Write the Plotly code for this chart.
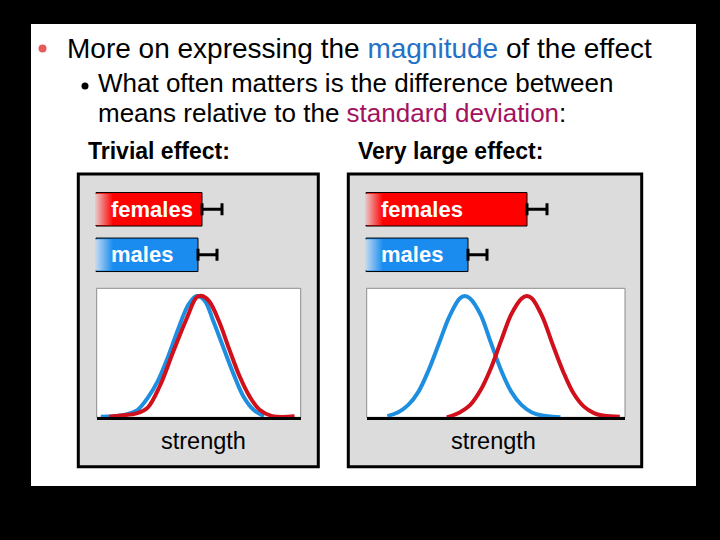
import plotly.graph_objects as go

# slide data
bar_groups = ["females", "males"]
bar_pos = [1, 0]
trivial_means = [106, 102]
large_means = [161, 102]
group_sd = [20, 19]
bar_colors = ["#ff0000", "#1a8cf0"]
fade_colors = ["#e8cccc", "#c9dcf0"]

# curves (x: 0-100 across plot, y: peak = 1)
left_x_blue = [2, 10, 15, 20, 25, 30, 35, 40, 45, 49, 53, 57, 62, 67, 72, 77, 82]
left_y_blue = [0.005, 0.01, 0.025, 0.06, 0.16, 0.30, 0.50, 0.73, 0.93, 1.0, 0.96, 0.80, 0.58, 0.36, 0.17, 0.06, 0.01]
left_x_red = [6, 12, 20, 25, 31, 37.5, 44, 49, 51.5, 55, 60, 65, 70, 75, 80, 86, 97]
left_y_red = [0.005, 0.015, 0.035, 0.08, 0.26, 0.54, 0.81, 0.99, 1.0, 0.96, 0.79, 0.56, 0.34, 0.17, 0.06, 0.01, 0.008]
right_x_blue = [8, 12, 16, 20, 24, 28, 32, 36, 38, 40, 44, 48, 52, 56, 60, 64, 68, 72, 75]
right_y_blue = [0.01, 0.04, 0.1, 0.21, 0.39, 0.61, 0.83, 0.98, 1.0, 0.98, 0.85, 0.62, 0.39, 0.21, 0.1, 0.04, 0.015, 0.005, 0.0]
right_x_red = [31, 36, 40, 44, 48, 52, 56, 60, 62, 64, 68, 72, 76, 80, 84, 88, 92, 98]
right_y_red = [0.0, 0.04, 0.1, 0.22, 0.4, 0.63, 0.85, 0.98, 1.0, 0.98, 0.83, 0.6, 0.38, 0.2, 0.09, 0.035, 0.012, 0.005]

W, H = 720, 540
FONT = "Liberation Sans, Arial, sans-serif"
BAR_W = 0.736
FADE = 17


def px(x):
    return x / W


def py(y):
    return 1 - y / H


fig = go.Figure()

# bars + fade at the left end
for xa, ya, means in [("x", "y", trivial_means), ("x2", "y2", large_means)]:
    fig.add_trace(go.Bar(
        x=means, y=bar_pos, orientation="h", width=BAR_W,
        marker=dict(color=bar_colors, line=dict(color="black", width=1)),
        error_x=dict(type="data", array=group_sd, symmetric=False, arrayminus=[0, 0],
                     color="black", thickness=3, width=6),
        xaxis=xa, yaxis=ya, hoverinfo="skip", showlegend=False))
    for i, g in enumerate(bar_groups):
        h = BAR_W / 2 - 0.025
        c = bar_pos[i]
        fig.add_trace(go.Scatter(
            x=[-1, FADE, FADE, -1, -1], y=[c - h, c - h, c + h, c + h, c - h],
            mode="none", fill="toself",
            fillgradient=dict(type="horizontal",
                              colorscale=[[0, fade_colors[i]], [1, bar_colors[i]]]),
            xaxis=xa, yaxis=ya, hoverinfo="skip", showlegend=False))
        fig.add_annotation(x=13, y=c, xref=xa, yref=ya, text=g, showarrow=False,
                           xanchor="left", yanchor="middle",
                           font=dict(family=FONT, size=22, color="white", weight="bold"))

# distribution curves
for xa, ya, bx, by, rx, ry in [("x3", "y3", left_x_blue, left_y_blue, left_x_red, left_y_red),
                               ("x4", "y4", right_x_blue, right_y_blue, right_x_red, right_y_red)]:
    fig.add_trace(go.Scatter(x=bx, y=by, mode="lines", line=dict(color="#1e8fe0", width=4, shape="spline"),
                             xaxis=xa, yaxis=ya, hoverinfo="skip", showlegend=False))
    fig.add_trace(go.Scatter(x=rx, y=ry, mode="lines", line=dict(color="#d0101a", width=4, shape="spline"),
                             xaxis=xa, yaxis=ya, hoverinfo="skip", showlegend=False))

bar_y_dom = [py(277.55), py(186.55)]
curve_y_dom = [py(417.3), py(288.3)]
hidden = dict(showgrid=False, zeroline=False, showticklabels=False, ticks="", fixedrange=True)
fig.update_layout(
    xaxis=dict(domain=[px(78), px(318)], range=[-18, 222], **hidden),
    yaxis=dict(domain=bar_y_dom, range=[-0.5, 1.5], **hidden),
    xaxis2=dict(domain=[px(348), px(642)], range=[-18, 276], anchor="y2", **hidden),
    yaxis2=dict(domain=bar_y_dom, range=[-0.5, 1.5], anchor="x2", **hidden),
    xaxis3=dict(domain=[px(96.7), px(300.7)], range=[0, 100], anchor="y3",
                showline=True, linecolor="black", linewidth=3, **hidden),
    yaxis3=dict(domain=curve_y_dom, range=[0, 1.0635], anchor="x3", **hidden),
    xaxis4=dict(domain=[px(366.7), px(625)], range=[0, 100], anchor="y4",
                showline=True, linecolor="black", linewidth=3, **hidden),
    yaxis4=dict(domain=curve_y_dom, range=[0, 1.0635], anchor="x4", **hidden),
)

shapes = [
    dict(type="rect", xref="paper", yref="paper", x0=px(31), x1=px(696), y0=py(486), y1=py(24),
         fillcolor="white", line=dict(width=0), layer="below"),
    dict(type="rect", xref="paper", yref="paper", x0=px(78.3), x1=px(318.3), y0=py(466.7), y1=py(174),
         fillcolor="#dcdcdc", line=dict(color="black", width=3), layer="below"),
    dict(type="rect", xref="paper", yref="paper", x0=px(348.3), x1=px(641.7), y0=py(466.7), y1=py(174),
         fillcolor="#dcdcdc", line=dict(color="black", width=3), layer="below"),
    dict(type="rect", xref="x3 domain", yref="y3 domain", x0=0, x1=1, y0=0, y1=1,
         fillcolor="white", line=dict(color="#8c8c8c", width=1), layer="below"),
    dict(type="rect", xref="x4 domain", yref="y4 domain", x0=0, x1=1, y0=0, y1=1,
         fillcolor="white", line=dict(color="#8c8c8c", width=1), layer="below"),
    dict(type="circle", xref="paper", yref="paper", x0=px(38.5), x1=px(46.5), y0=py(52.5), y1=py(44.5),
         fillcolor="#e85a5a", line=dict(width=0)),
    dict(type="circle", xref="paper", yref="paper", x0=px(81.5), x1=px(88.5), y0=py(89.5), y1=py(82.5),
         fillcolor="black", line=dict(width=0)),
]

texts = [
    (65, 48.3, "More on expressing the <span style='color:#2471c6'>magnitude</span> of the effect", 28, "normal", "left"),
    (96, 83, "What often matters is the difference between", 26, "normal", "left"),
    (96, 113, "means relative to the <span style='color:#a3125e'>standard deviation</span>:", 26, "normal", "left"),
    (86, 151, "Trivial effect:", 23, "bold", "left"),
    (356, 151, "Very large effect:", 23, "bold", "left"),
    (203, 441, "strength", 23.5, "normal", "center"),
    (493, 441, "strength", 23.5, "normal", "center"),
]
for x, y, t, s, wgt, anc in texts:
    fig.add_annotation(x=px(x), y=py(y), xref="paper", yref="paper", text=t, showarrow=False,
                       xanchor=anc, yanchor="middle",
                       font=dict(family=FONT, size=s, color="black", weight=wgt))

fig.update_layout(
    width=W, height=H, margin=dict(l=0, r=0, t=0, b=0),
    paper_bgcolor="black", plot_bgcolor="rgba(0,0,0,0)",
    shapes=shapes, showlegend=False, barmode="overlay",
)

fig.write_html("out.html", config={"displayModeBar": False},
               post_script="document.body.style.margin='0';")
